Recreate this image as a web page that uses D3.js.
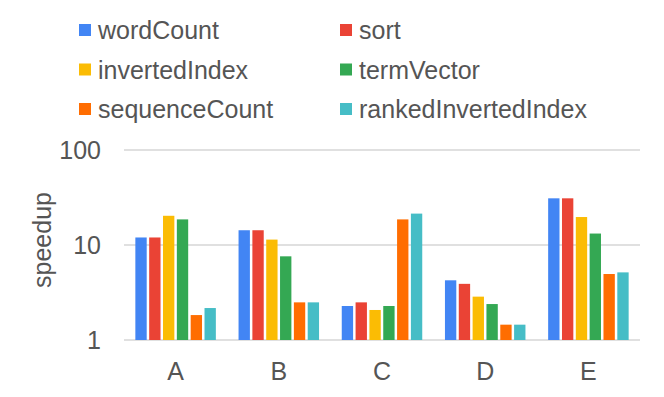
<!DOCTYPE html>
<html>
<head>
<meta charset="utf-8">
<script src="https://cdn.jsdelivr.net/npm/d3@7"></script>
<style>
  body { margin: 0; background: #fff; }
  text { font-family: "Liberation Sans", Arial, sans-serif; fill: #555; }
</style>
</head>
<body>
<div id="chart"></div>
<script>
// categories and series
var categories = ["A", "B", "C", "D", "E"];
var seriesNames = ["wordCount", "sort", "invertedIndex", "termVector", "sequenceCount", "rankedInvertedIndex"];
var colors = ["#4285F4", "#EA4335", "#FBBC04", "#34A853", "#FF6D01", "#46BDC6"];

// speedup per series, one value per category A..E
var wordCount = [12, 14.3, 2.28, 4.25, 31];
var sort = [12, 14.3, 2.49, 3.9, 31];
var invertedIndex = [20.3, 11.4, 2.07, 2.86, 19.7];
var termVector = [18.6, 7.6, 2.28, 2.39, 13.2];
var sequenceCount = [1.83, 2.49, 18.6, 1.45, 4.95];
var rankedInvertedIndex = [2.17, 2.49, 21.4, 1.45, 5.15];

var yTicks = [1, 10, 100];

var seriesValues = [wordCount, sort, invertedIndex, termVector, sequenceCount, rankedInvertedIndex];

var width = 664;
var height = 397;
var fontSize = 25;

var svg = d3.select("#chart")
    .append("svg")
    .attr("width", width)
    .attr("height", height);

// Scales
var xScale = d3.scaleBand()
    .domain(categories)
    .range([124, 640])
    .paddingInner(0.22)
    .paddingOuter(0.11);

var xInner = d3.scaleBand()
    .domain(seriesNames)
    .range([0, xScale.bandwidth()])
    .paddingInner(0.18);

var yScale = d3.scaleLog()
    .domain([1, 100])
    .range([340, 150]);

// gridlines
svg.append("g")
    .selectAll("line")
    .data(yTicks)
    .enter()
    .append("line")
    .attr("x1", 124)
    .attr("x2", 640)
    .attr("y1", function(d) { return yScale(d); })
    .attr("y2", function(d) { return yScale(d); })
    .attr("stroke", "#d6d6d6")
    .attr("stroke-width", 1.3);

// y axis labels
var yAxis = d3.axisLeft(yScale)
    .tickValues(yTicks)
    .tickFormat(d3.format("d"))
    .tickSize(0)
    .tickPadding(23);

var yG = svg.append("g")
    .attr("transform", "translate(124,0)")
    .call(yAxis);
yG.select(".domain").remove();
yG.selectAll("text")
    .attr("font-size", fontSize)
    .attr("font-family", null)
    .attr("fill", null);

// x axis labels
var xAxis = d3.axisBottom(xScale).tickSize(0).tickPadding(22);
var xG = svg.append("g")
    .attr("transform", "translate(0,340)")
    .call(xAxis);
xG.select(".domain").remove();
xG.selectAll("text")
    .attr("font-size", fontSize)
    .attr("font-family", null)
    .attr("fill", null);

// y axis title
svg.append("text")
    .attr("transform", "translate(51,240)rotate(-90)")
    .attr("text-anchor", "middle")
    .attr("font-size", fontSize)
    .text("speedup");

// bars
var groups = svg.append("g")
    .selectAll("g")
    .data(categories)
    .enter()
    .append("g")
    .attr("transform", function(d) { return "translate(" + xScale(d) + ",0)"; });

groups.selectAll("rect")
    .data(function(d, i) {
        return seriesNames.map(function(name, s) {
            return { name: name, value: seriesValues[s][i], color: colors[s] };
        });
    })
    .enter()
    .append("rect")
    .attr("x", function(d) { return xInner(d.name); })
    .attr("width", xInner.bandwidth())
    .attr("y", function(d) { return yScale(d.value); })
    .attr("height", function(d) { return yScale(1) - yScale(d.value); })
    .attr("fill", function(d) { return d.color; });

// legend
var legend = svg.append("g")
    .selectAll("g")
    .data(seriesNames)
    .enter()
    .append("g")
    .attr("transform", function(d, i) {
        var col = i % 2;
        var row = Math.floor(i / 2);
        return "translate(" + (79 + col * 261) + "," + (24 + row * 39.5) + ")";
    });

legend.append("rect")
    .attr("width", 12)
    .attr("height", 12)
    .attr("fill", function(d, i) { return colors[i]; });

legend.append("text")
    .attr("x", 19)
    .attr("y", 15)
    .attr("font-size", fontSize)
    .text(function(d) { return d; });
</script>
</body>
</html>
